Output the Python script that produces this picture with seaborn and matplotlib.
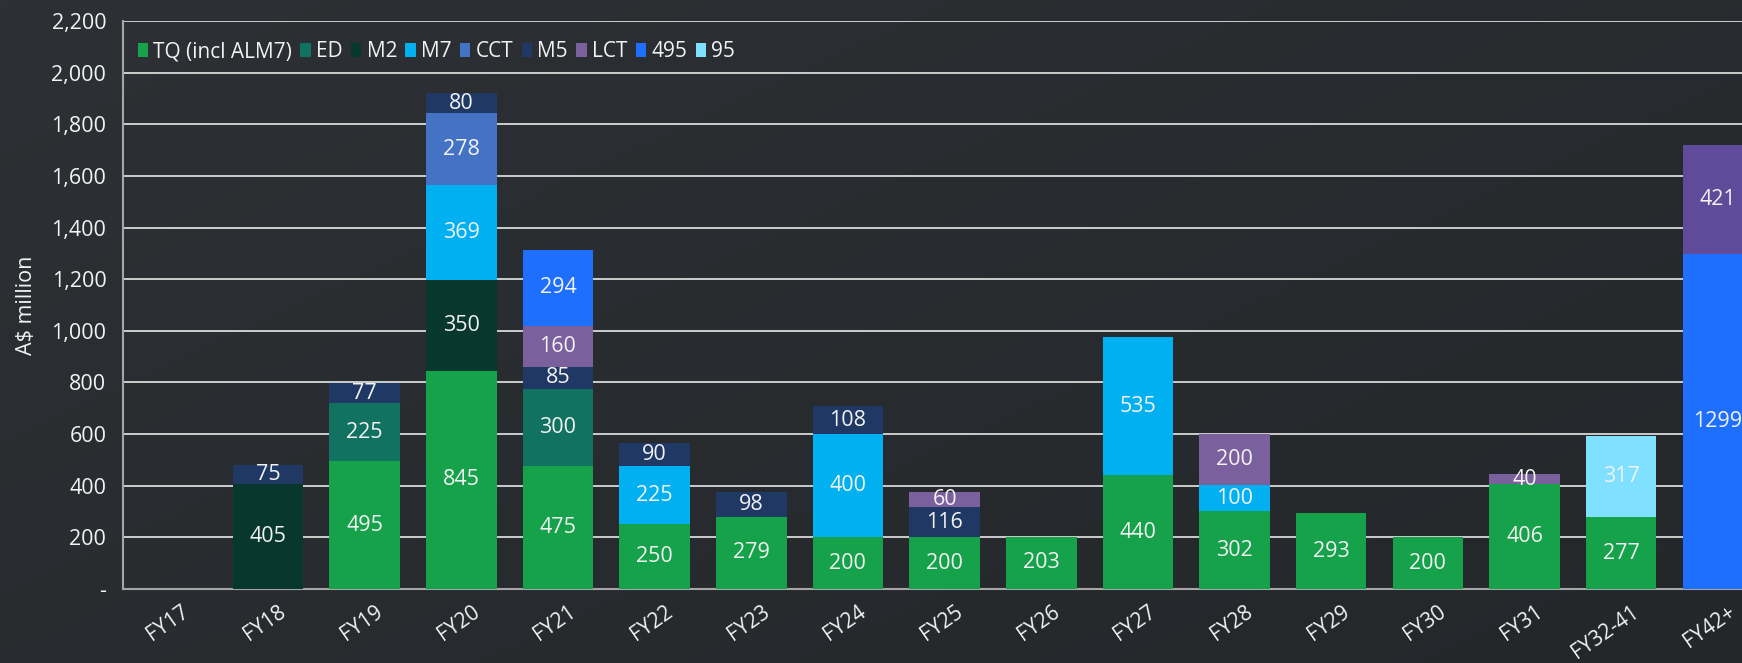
import numpy as np
import pandas as pd
import matplotlib
matplotlib.use("Agg")
import matplotlib.pyplot as plt
import matplotlib.transforms as mtransforms
from matplotlib.ticker import FuncFormatter, MultipleLocator
from matplotlib.patches import Patch
import seaborn as sns

# Debt maturity profile by facility (A$ million)
categories = ["FY17", "FY18", "FY19", "FY20", "FY21", "FY22", "FY23", "FY24", "FY25",
              "FY26", "FY27", "FY28", "FY29", "FY30", "FY31", "FY32-41", "FY42+"]

tq      = [0, 0, 495, 845, 475, 250, 279, 200, 200, 203, 440, 302, 293, 200, 406, 277, 0]
ed      = [0, 0, 225, 0, 300, 0, 0, 0, 0, 0, 0, 0, 0, 0, 0, 0, 0]
m2      = [0, 405, 0, 350, 0, 0, 0, 0, 0, 0, 0, 0, 0, 0, 0, 0, 0]
m7      = [0, 0, 0, 369, 0, 225, 0, 400, 0, 0, 535, 100, 0, 0, 0, 0, 0]
cct     = [0, 0, 0, 278, 0, 0, 0, 0, 0, 0, 0, 0, 0, 0, 0, 0, 0]
m5      = [0, 75, 77, 80, 85, 90, 98, 108, 116, 0, 0, 0, 0, 0, 0, 0, 0]
lct     = [0, 0, 0, 0, 160, 0, 0, 0, 60, 0, 0, 200, 0, 0, 40, 0, 0]
m495    = [0, 0, 0, 0, 294, 0, 0, 0, 0, 0, 0, 0, 0, 0, 0, 0, 1299]
m95     = [0, 0, 0, 0, 0, 0, 0, 0, 0, 0, 0, 0, 0, 0, 0, 317, 0]
lct_late = [0, 0, 0, 0, 0, 0, 0, 0, 0, 0, 0, 0, 0, 0, 0, 0, 421]

legend_names = ["TQ (incl ALM7)", "ED", "M2", "M7", "CCT", "M5", "LCT", "495", "95"]

# stacking order bottom -> top
series = [
    ("TQ (incl ALM7)", tq, "#15A24A"),
    ("ED", ed, "#127262"),
    ("M2", m2, "#08372D"),
    ("M7", m7, "#00B0F0"),
    ("CCT", cct, "#4472C4"),
    ("M5", m5, "#1F3864"),
    ("LCT", lct, "#7B609E"),
    ("495", m495, "#1F6FFF"),
    ("95", m95, "#7FE0FF"),
    ("_lct_late", lct_late, "#604B9B"),
]

BG = "#2B2E32"
TXT = "#F2F2F2"
FS = 15.5

sns.set_theme(style="dark")
plt.rcParams["font.family"] = ["Open Sans", "DejaVu Sans"]

W, H, DPI = 1742, 663, 100
fig = plt.figure(figsize=(W / DPI, H / DPI), dpi=DPI, facecolor=BG)

# subtle dark backdrop gradient
bg_ax = fig.add_axes([0, 0, 1, 1], zorder=-10)
gy, gx = np.mgrid[0:1:200j, 0:1:400j]
grad = 0.55 * gx + 0.45 * gy
bg_ax.imshow(grad, cmap=matplotlib.colors.LinearSegmentedColormap.from_list(
    "bg", ["#2D3034", "#24272A"]), aspect="auto", extent=[0, 1, 0, 1], origin="upper")
bg_ax.set_axis_off()

ax = fig.add_axes([123 / W, 1 - 589 / H, 1 - 123 / W, (589 - 21) / H])
ax.set_facecolor("none")

df = pd.DataFrame({name: vals for name, vals, _ in series}, index=categories)
cum = df.cumsum(axis=1)

# draw cumulative bars from the top layer down so each lower segment overlays
for name, _, color in reversed(series):
    sns.barplot(x=categories, y=cum[name].values, color=color, saturation=1,
                width=0.73, linewidth=0, ax=ax, zorder=3)

# segment value labels
for i, cat in enumerate(categories):
    base = 0
    for name, vals, _ in series:
        v = vals[i]
        if v > 0:
            ax.text(i, base + v / 2, f"{v}", ha="center", va="center",
                    color=TXT, fontsize=FS, zorder=5)
        base += v

ax.set_xlim(-0.5, 16.25)
ax.set_ylim(0, 2200)
ax.yaxis.set_major_locator(MultipleLocator(200))
ax.yaxis.set_major_formatter(FuncFormatter(lambda v, p: "-" if v == 0 else f"{int(v):,}"))
ax.grid(axis="y", color="#D9D9D9", linewidth=1.3, zorder=0)
ax.grid(axis="x", visible=False)
ax.set_axisbelow(True)

for s in ["top", "right"]:
    ax.spines[s].set_visible(False)
for s in ["left", "bottom"]:
    ax.spines[s].set_visible(True)
    ax.spines[s].set_color("#A6A6A6")
    ax.spines[s].set_linewidth(1.5)

ax.tick_params(axis="y", colors=TXT, labelsize=FS, length=0, pad=12)
ax.tick_params(axis="x", colors=TXT, labelsize=15, length=0, pad=9)
shift = mtransforms.ScaledTranslation(10 / DPI, 0, fig.dpi_scale_trans)
for lbl in ax.get_xticklabels():
    lbl.set_rotation(35)
    lbl.set_ha("right")
    lbl.set_rotation_mode("anchor")
    lbl.set_transform(lbl.get_transform() + shift)
ax.set_ylabel("A$ million", color=TXT, fontsize=FS, labelpad=10)
ax.set_xlabel("")

handles = [Patch(facecolor=c, edgecolor="none", label=n)
           for n, _, c in series if n in legend_names]
leg = ax.legend(handles=handles, loc="upper left", bbox_to_anchor=(0.0, 0.99),
                ncol=len(handles), frameon=False, fontsize=15,
                handlelength=0.5, handleheight=0.7, handletextpad=0.25,
                columnspacing=0.4, borderaxespad=0.3)
for t in leg.get_texts():
    t.set_color(TXT)

fig.savefig("out.png", dpi=DPI, facecolor=BG)
